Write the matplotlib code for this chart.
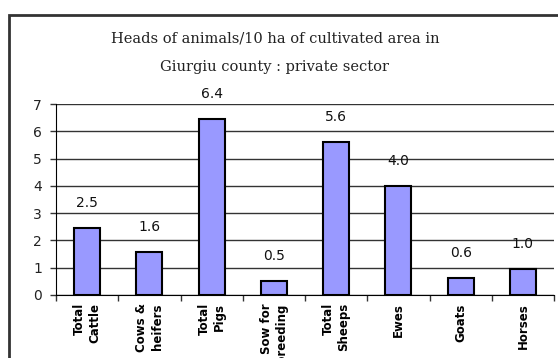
import matplotlib
matplotlib.use("Agg")
import matplotlib.pyplot as plt
from matplotlib.patches import Rectangle
import numpy as np

categories = ["Total\nCattle", "Cows &\nheifers", "Total\nPigs", "Sow for\nbreeding",
              "Total\nSheeps", "Ewes", "Goats", "Horses"]
bar_values = [2.46, 1.59, 6.45, 0.52, 5.6, 4.0, 0.62, 0.95]
value_labels = ["2.5", "1.6", "6.4", "0.5", "5.6", "4.0", "0.6", "1.0"]
y_ticks = [0, 1, 2, 3, 4, 5, 6, 7]
title_lines = ["Heads of animals/10 ha of cultivated area in",
               "Giurgiu county : private sector"]

W, H = 558, 358
fig = plt.figure(figsize=(W / 100, H / 100), dpi=100)
fig.patch.set_facecolor("white")

# outer chart border
fig.patches.append(Rectangle((8.5 / W, -0.2), 1.0, (H - 15) / H + 0.2,
                             transform=fig.transFigure, fill=False,
                             edgecolor="#333333", linewidth=2))

left, right = 56 / W, 554 / W
bottom, top = (H - 295) / H, (H - 104) / H
ax = fig.add_axes([left, bottom, right - left, top - bottom])

x = np.arange(len(categories))
ax.bar(x, bar_values, width=0.42, color="#9999FF", edgecolor="black", linewidth=1.5, zorder=3)

for xi, v, lab in zip(x, bar_values, value_labels):
    ax.annotate(lab, (xi, v), xytext=(0, 25 * 0.72), textcoords="offset points",
                ha="center", va="center", fontsize=10, family="DejaVu Sans",
                color="#111111")

ax.set_xlim(-0.5, len(categories) - 0.5)
ax.set_ylim(0, 7)
ax.set_yticks(y_ticks)
ax.set_yticklabels([str(t) for t in y_ticks], fontsize=10, color="#222222")
ax.yaxis.grid(True, color="#333333", linewidth=1)
ax.set_axisbelow(True)
ax.tick_params(axis="y", length=4, width=1, pad=6, color="#333333")

ax.set_xticks(np.arange(-0.5, len(categories), 1.0))
ax.set_xticklabels([])
ax.tick_params(axis="x", length=4, width=1, direction="out", color="#333333")
for xi, lab in zip(x, categories):
    ax.text(xi, -0.3, lab, rotation=90, ha="center", va="top",
            multialignment="right", fontsize=8.5, fontweight="bold",
            family="DejaVu Sans", linespacing=1.25, clip_on=False)

for s in ["top", "right"]:
    ax.spines[s].set_visible(False)
ax.spines["left"].set_color("black")
ax.spines["bottom"].set_color("black")

fig.text(275 / W, (H - 38) / H, title_lines[0], ha="center", va="center",
         fontsize=10.5, family="DejaVu Serif", color="#222222")
fig.text(275 / W, (H - 67) / H, title_lines[1], ha="center", va="center",
         fontsize=10.5, family="DejaVu Serif", color="#222222")

fig.savefig("out.png", dpi=100)
